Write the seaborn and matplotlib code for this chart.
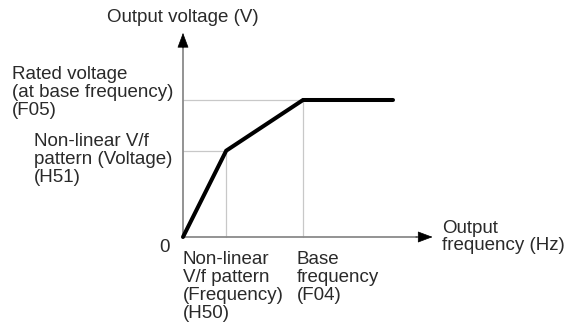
import matplotlib
matplotlib.use("Agg")
import matplotlib.pyplot as plt
import seaborn as sns
import pandas as pd

# V/f pattern, normalised: base frequency = 1, rated voltage = 1
freq = [0.0, 0.36, 1.0, 1.75]
volt = [0.0, 0.63, 1.0, 1.0]
nonlinear_f = 0.36
nonlinear_v = 0.63
base_f = 1.0
rated_v = 1.0

y_axis_label = "Output voltage (V)"
x_axis_label = "Output\nfrequency (Hz)"
rated_label = "Rated voltage\n(at base frequency)\n(F05)"
h51_label = "Non-linear V/f\npattern (Voltage)\n(H51)"
h50_label = "Non-linear\nV/f pattern\n(Frequency)\n(H50)"
f04_label = "Base\nfrequency\n(F04)"
origin_label = "0"

W, H = 566, 329
sns.set_theme(style="white")
plt.rcParams["font.family"] = ["Liberation Sans", "DejaVu Sans"]

fig = plt.figure(figsize=(W / 100, H / 100), dpi=100)
ax = fig.add_axes([0, 0, 1, 1])
ox, oy, sx, sy = 183, 237, 120, 137
ax.set_xlim(-ox / sx, (W - ox) / sx)
ax.set_ylim(-(H - oy) / sy, oy / sy)
ax.axis("off")

guide = dict(color="#c8c8c8", lw=0.9, zorder=1)
ax.plot([0, nonlinear_f], [nonlinear_v, nonlinear_v], **guide)
ax.plot([nonlinear_f, nonlinear_f], [0, nonlinear_v], **guide)
ax.plot([0, base_f], [rated_v, rated_v], **guide)
ax.plot([base_f, base_f], [0, rated_v], **guide)

# axes with arrowheads
axis_col = "#8a8a8a"
ax.plot([0, 0], [0, 1.40], color=axis_col, lw=1.3, zorder=2)
ax.plot([0, 1.95], [0, 0], color=axis_col, lw=1.3, zorder=2)
ax.annotate("", xy=(0, 1.49), xytext=(0, 1.38),
            arrowprops=dict(arrowstyle="-|>,head_length=0.8,head_width=0.3",
                            color="black", lw=0.5, shrinkA=0, shrinkB=0))
ax.annotate("", xy=(2.08, 0), xytext=(1.94, 0),
            arrowprops=dict(arrowstyle="-|>,head_length=0.8,head_width=0.3",
                            color="black", lw=0.5, shrinkA=0, shrinkB=0))

df = pd.DataFrame({"freq": freq, "volt": volt})
sns.lineplot(data=df, x="freq", y="volt", ax=ax, color="black", lw=2.9,
             sort=False, zorder=3, solid_joinstyle="miter")


def px(x, y):
    return x / W, 1 - y / H


txt = dict(color="#2a2a2a", fontsize=13.5, linespacing=1.07, transform=fig.transFigure)
fig.text(*px(183, 18), y_axis_label, ha="center", va="center", **txt)
fig.text(*px(12, 66), rated_label, ha="left", va="top", **txt)
fig.text(*px(34, 133), h51_label, ha="left", va="top", **txt)
fig.text(*px(165, 247), origin_label, ha="center", va="center", **txt)
fig.text(*px(183, 251), h50_label, ha="left", va="top", **txt)
fig.text(*px(297, 251), f04_label, ha="left", va="top", **txt)
fig.text(*px(442, 237), x_axis_label, ha="left", va="center", **txt)

fig.savefig("out.png", dpi=100)
